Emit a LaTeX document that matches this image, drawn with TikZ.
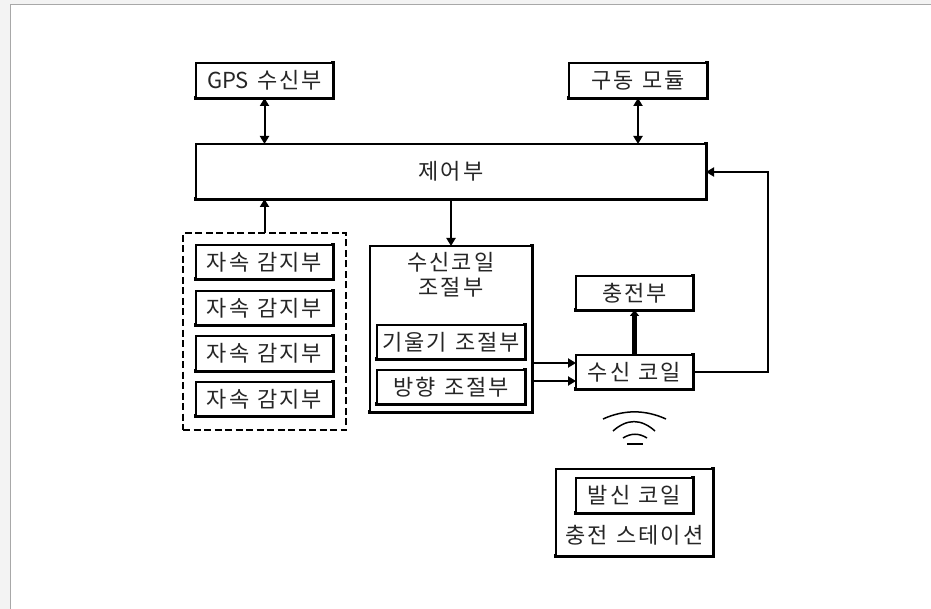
\documentclass[tikz,border=0pt]{standalone}
\usepackage{fontspec}
\setmainfont{Noto Sans CJK KR}[LetterSpace=9,WordSpace=1.2]
\newfontfamily\latinplain{Noto Sans CJK KR}
\usetikzlibrary{arrows.meta}
\definecolor{pagebg}{HTML}{F3F3F3}
\definecolor{pageedge}{HTML}{A8A8A8}
\tikzset{
  x=1pt,y=-1pt,
  boxed/.style={draw=black,line width=1.5pt,fill=white,inner sep=0pt,outer sep=0pt,font=\fontsize{22}{26}\selectfont,text=black!85,
    append after command={\pgfextra{\draw[black,line width=3.2pt,line cap=rect]
      (\tikzlastnode.north east)--(\tikzlastnode.south east)--(\tikzlastnode.south west);}}},
  sized/.style 2 args={minimum width=#1 pt,minimum height=#2 pt},
  label text/.style={inner sep=0pt,font=\fontsize{22}{26}\selectfont,text=black!85},
  conn/.style={draw=black,line width=2pt},
  oneway/.style={conn,-{Triangle[length=8pt,width=9pt]}},
  twoway/.style={conn,{Triangle[length=8pt,width=9pt]}-{Triangle[length=8pt,width=9pt]}},
  heavy/.style={draw=black,line width=4.5pt,-{Triangle[length=6pt,width=9pt]}},
  wave/.style={draw=black,line width=1.5pt},
  dashbox/.style={draw=black,line width=1.3pt,dash pattern=on 7pt off 3.5pt,inner sep=0pt,outer sep=0pt}
}
\begin{document}
\begin{tikzpicture}
\useasboundingbox (0,0) rectangle (931,609);
\fill[pagebg] (0,0) rectangle (931,609);
\fill[white] (10.5,4.5) rectangle (931,609);
\draw[pageedge,line width=1.3pt] (10.5,609) -- (10.5,4.5) -- (931,4.5);

\node[boxed,sized={137}{35}] (gps) at (264.5,80.5) {{\latinplain GPS} 수신부};
\node[boxed,sized={138}{35}] (drive) at (638,80.5) {구동 모듈};
\node[boxed,sized={510}{55}] (ctrl) at (451,171.5) {제어부};

\node[dashbox,minimum width=163pt,minimum height=197pt] (group) at (264.5,331.5) {};
\node[boxed,sized={137}{34}] (s1) at (264.5,262) {자속 감지부};
\node[boxed,sized={137}{34}] (s2) at (264.5,308) {자속 감지부};
\node[boxed,sized={137}{35}] (s3) at (264.5,353.5) {자속 감지부};
\node[boxed,sized={137}{34}] (s4) at (264.5,399) {자속 감지부};

\node[boxed,sized={162}{166}] (adj) at (451,329) {};
\node[label text,align=center] (adjt) at (451,262) {수신코일};
\node[label text,align=center] (adju) at (451,287) {조절부};
\node[boxed,sized={148}{34}] (tilt) at (451,342) {기울기 조절부};
\node[boxed,sized={148}{34}] (dir) at (451,387) {방향 조절부};

\node[boxed,sized={117}{34}] (charge) at (634.5,293) {충전부};
\node[boxed,sized={117}{34}] (rx) at (634.5,372) {수신 코일};

\node[boxed,sized={157}{87}] (station) at (634.5,512.5) {};
\node[boxed,sized={117}{35}] (tx) at (634.5,495.5) {발신 코일};
\node[label text] (stationt) at (634.5,535) {충전 스테이션};

\coordinate (rxin1) at (rx.west |- 0,363);
\coordinate (rxin2) at (rx.west |- 0,381);
\coordinate (ctrlin) at (ctrl.east |- 0,172);
\coordinate (bend1) at (768,372);
\coordinate (bend2) at (768,172);

\draw[twoway] (gps.south) -- (gps.south |- ctrl.north);
\draw[twoway] (drive.south) -- (drive.south |- ctrl.north);
\draw[oneway] (group.north) -- (group.north |- ctrl.south);
\draw[oneway] (adj.north |- ctrl.south) -- (adj.north);
\draw[oneway] (adj.east |- rxin1) -- (rxin1);
\draw[oneway] (adj.east |- rxin2) -- (rxin2);
\draw[heavy] (rx.north) -- (charge.south);
\draw[oneway] (rx.east) -- (bend1) -- (bend2) -- (ctrlin);

\draw[wave] (603,419) .. controls (624,409.5) and (645,409.5) .. (666,419);
\draw[wave] (613,431) .. controls (627,418.5) and (641,418.5) .. (655,431);
\draw[wave] (623,438) .. controls (631,433) and (639,433) .. (647,438);
\draw[wave] (627,444) -- (643,444);
\end{tikzpicture}
\end{document}
